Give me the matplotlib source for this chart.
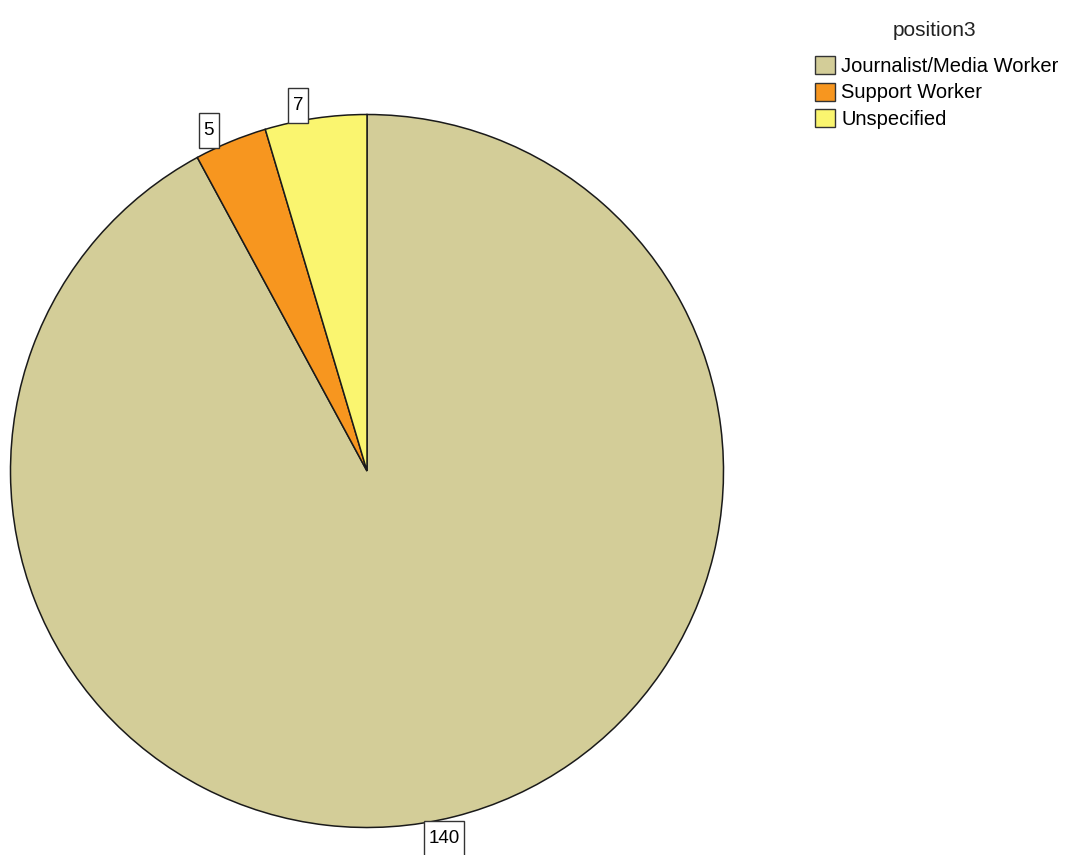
import matplotlib
matplotlib.use("Agg")
import matplotlib.pyplot as plt
from matplotlib.patches import Patch, Rectangle
import matplotlib.transforms as mtransforms
import numpy as np

categories = ["Journalist/Media Worker", "Support Worker", "Unspecified"]
counts = [140, 5, 7]
colors = ["#D3CD98", "#F7961F", "#FAF56F"]
legend_title = "position3"

plt.rcParams['font.family'] = ['Liberation Sans', 'DejaVu Sans']

W, H = 1066, 855
fig = plt.figure(figsize=(W / 100, H / 100), dpi=100)
cx, cy, r = 367, 471, 356.5
ax = fig.add_axes([(cx - r) / W, (H - cy - r) / H, 2 * r / W, 2 * r / H])

wedges, _ = ax.pie(counts, colors=colors, startangle=90, counterclock=False,
                   radius=1, frame=False,
                   wedgeprops=dict(edgecolor="#1a1a1a", linewidth=1.1))
ax.set_xlim(-1, 1)
ax.set_ylim(-1, 1)
ax.set_aspect('equal')
ax.axis('off')
for w in wedges:
    w.set_clip_on(False)

for w, c in zip(wedges, counts):
    mid = np.deg2rad((w.theta1 + w.theta2) / 2)
    x, y = 1.05 * np.cos(mid), 1.05 * np.sin(mid)
    tr = fig.dpi_scale_trans + mtransforms.ScaledTranslation(x, y, ax.transData)
    dx, dy = -0.15, -0.05
    ax.text(dx, dy, str(c), ha='center', va='center', fontsize=13.5,
            transform=tr, clip_on=False, zorder=5)
    bw = (0.20 if len(str(c)) == 1 else 0.40)
    bh = 0.35
    ax.add_patch(Rectangle((dx - bw / 2, dy - bh / 2), bw, bh, transform=tr,
                           facecolor='white', edgecolor='#333333',
                           linewidth=1.0, clip_on=False, zorder=4))

fig.text(935 / W, 1 - 30 / H, legend_title, ha='center', va='center',
         fontsize=15, color='#222222')
handles = [Patch(facecolor=col, edgecolor='#333333', linewidth=1.0) for col in colors]
leg = fig.legend(handles, categories, loc='upper left',
                 bbox_to_anchor=(815 / W, 1 - 56 / H), frameon=False,
                 fontsize=14.5, handlelength=1.0, handleheight=1.0,
                 handletextpad=0.3, labelspacing=0.33, borderpad=0.0,
                 borderaxespad=0.0)

fig.savefig("out.png", dpi=100)
